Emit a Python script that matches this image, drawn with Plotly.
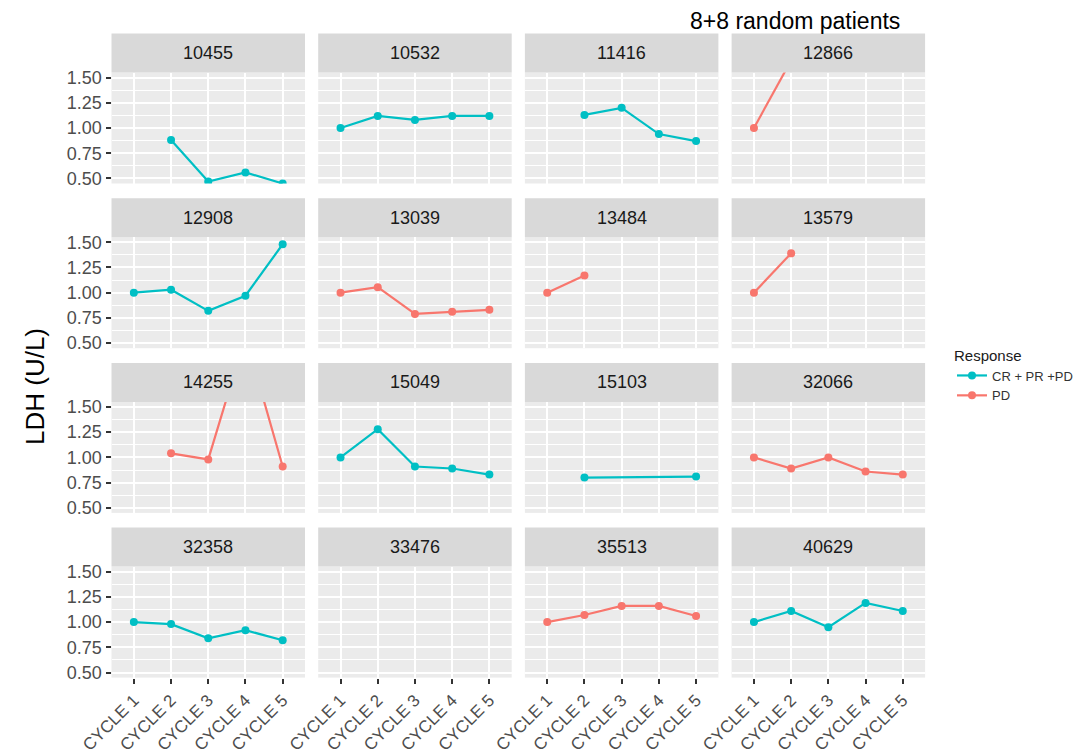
import plotly.graph_objects as go

# ---------------- data ----------------
cycles = ["CYCLE 1", "CYCLE 2", "CYCLE 3", "CYCLE 4", "CYCLE 5"]
patients = ["10455", "10532", "11416", "12866",
            "12908", "13039", "13484", "13579",
            "14255", "15049", "15103", "32066",
            "32358", "33476", "35513", "40629"]
response = ["CR + PR +PD", "CR + PR +PD", "CR + PR +PD", "PD",
            "CR + PR +PD", "PD", "PD", "PD",
            "PD", "CR + PR +PD", "CR + PR +PD", "PD",
            "CR + PR +PD", "PD", "PD", "CR + PR +PD"]
ldh_10455 = [None, 0.88, 0.47, 0.56, 0.45]
ldh_10532 = [1.00, 1.12, 1.08, 1.12, 1.12]
ldh_11416 = [None, 1.13, 1.20, 0.94, 0.87]
ldh_12866 = [1.00, 1.67, None, None, None]
ldh_12908 = [1.00, 1.03, 0.82, 0.97, 1.48]
ldh_13039 = [1.00, 1.055, 0.79, 0.81, 0.83]
ldh_13484 = [1.00, 1.17, None, None, None]
ldh_13579 = [1.00, 1.39, None, None, None]
ldh_14255 = [None, 1.04, 0.98, 2.20, 0.91]
ldh_15049 = [1.00, 1.28, 0.91, 0.89, 0.83]
ldh_15103 = [None, 0.80, None, None, 0.81]
ldh_32066 = [1.00, 0.89, 1.00, 0.86, 0.83]
ldh_32358 = [1.00, 0.98, 0.84, 0.92, 0.82]
ldh_33476 = [None, None, None, None, None]
ldh_35513 = [1.00, 1.07, 1.16, 1.16, 1.06]
ldh_40629 = [1.00, 1.11, 0.95, 1.19, 1.11]
values = [ldh_10455, ldh_10532, ldh_11416, ldh_12866,
          ldh_12908, ldh_13039, ldh_13484, ldh_13579,
          ldh_14255, ldh_15049, ldh_15103, ldh_32066,
          ldh_32358, ldh_33476, ldh_35513, ldh_40629]
y_ticks = [0.50, 0.75, 1.00, 1.25, 1.50]
title_text = "8+8 random patients"
y_title = "LDH (U/L)"
legend_title = "Response"

# ---------------- style / layout ----------------
# The page has an 8px body margin, so the figure is drawn 8px smaller and all
# positions below (given in window pixels) are shifted by that offset.
OFF = 8
W, H = 1084 - OFF, 754 - OFF
colors = {"CR + PR +PD": "#00BFC4", "PD": "#F8766D"}
FONT = "Liberation Sans, Arial, Helvetica, sans-serif"
col_left0, col_pitch, col_w = 111.5, 206.7, 193.5
row_top0, row_pitch, row_h = 72.5, 164.7, 111.0
strip_h = 39.0

def px(x):
    return (x - OFF) / W

def py(y):
    return 1 - (y - OFF) / H

fig = go.Figure()
shapes, annotations = [], []
legend_done = set()

for i, pid in enumerate(patients):
    r, c = divmod(i, 4)
    k = i + 1
    xa = "x" if k == 1 else f"x{k}"
    ya = "y" if k == 1 else f"y{k}"
    left = col_left0 + c * col_pitch
    top = row_top0 + r * row_pitch
    grp = response[i]
    show = grp not in legend_done and any(v is not None for v in values[i])
    if show:
        legend_done.add(grp)
    fig.add_trace(go.Scatter(
        x=cycles, y=values[i], mode="lines+markers",
        line=dict(color=colors[grp], width=2.2),
        marker=dict(color=colors[grp], size=8),
        connectgaps=True, name=grp, legendgroup=grp, showlegend=show,
        legendrank=1 if grp == "CR + PR +PD" else 2,
        xaxis=xa, yaxis=ya,
    ))
    bottom_row = (r == 3)
    left_col = (c == 0)
    fig.layout[f"xaxis{'' if k == 1 else k}"] = dict(
        domain=[px(left), px(left + col_w)], anchor=ya, automargin=False,
        type="category", categoryorder="array", categoryarray=cycles,
        range=[-0.6, 4.6], showgrid=True, gridcolor="white", gridwidth=2,
        zeroline=False, showline=False,
        ticks="outside" if bottom_row else "", ticklen=5, tickwidth=2, tickcolor="#333333",
        showticklabels=bottom_row, tickangle=-45,
        tickfont=dict(family=FONT, size=17, color="#4D4D4D"),
        fixedrange=True,
    )
    fig.layout[f"yaxis{'' if k == 1 else k}"] = dict(
        domain=[py(top + row_h), py(top)], anchor=xa, automargin=False,
        range=[0.45, 1.55], tickmode="array", tickvals=y_ticks, tickformat=".2f",
        showgrid=True, gridcolor="white", gridwidth=2,
        minor=dict(tickmode="array", tickvals=[0.625, 0.875, 1.125, 1.375],
                   showgrid=True, gridcolor="white", gridwidth=1, ticks=""),
        zeroline=False, showline=False,
        ticks="outside" if left_col else "", ticklen=5, tickwidth=2, tickcolor="#333333",
        showticklabels=left_col,
        tickfont=dict(family=FONT, size=18, color="#4D4D4D"),
        fixedrange=True,
    )
    # strip
    shapes.append(dict(type="rect", xref="paper", yref="paper",
                       x0=px(left), x1=px(left + col_w), y0=py(top), y1=py(top - strip_h),
                       fillcolor="#D9D9D9", line=dict(width=0), layer="below"))
    annotations.append(dict(text=pid, xref="paper", yref="paper",
                            x=px(left + col_w / 2), y=py(top - strip_h / 2),
                            xanchor="center", yanchor="middle", showarrow=False,
                            font=dict(family=FONT, size=18, color="#1A1A1A")))

annotations.append(dict(text=title_text, xref="paper", yref="paper",
                        x=px(902), y=py(21), xanchor="right", yanchor="middle",
                        showarrow=False, font=dict(family=FONT, size=23, color="black")))
annotations.append(dict(text=y_title, xref="paper", yref="paper",
                        x=px(35), y=py(387), xanchor="center", yanchor="middle",
                        textangle=-90, showarrow=False,
                        font=dict(family=FONT, size=26, color="black")))

fig.update_layout(
    width=W, height=H, margin=dict(l=0, r=0, t=0, b=0, autoexpand=False),
    paper_bgcolor="white", plot_bgcolor="#EBEBEB",
    shapes=shapes, annotations=annotations,
    legend=dict(xref="container", yref="container",
                x=px(952), y=py(341), xanchor="left", yanchor="top",
                title=dict(text=legend_title, font=dict(family=FONT, size=15, color="#1A1A1A")),
                font=dict(family=FONT, size=13, color="#333333"),
                tracegroupgap=0, itemwidth=30, bgcolor="rgba(0,0,0,0)"),
    showlegend=True,
)

fig.write_html("out.html")
